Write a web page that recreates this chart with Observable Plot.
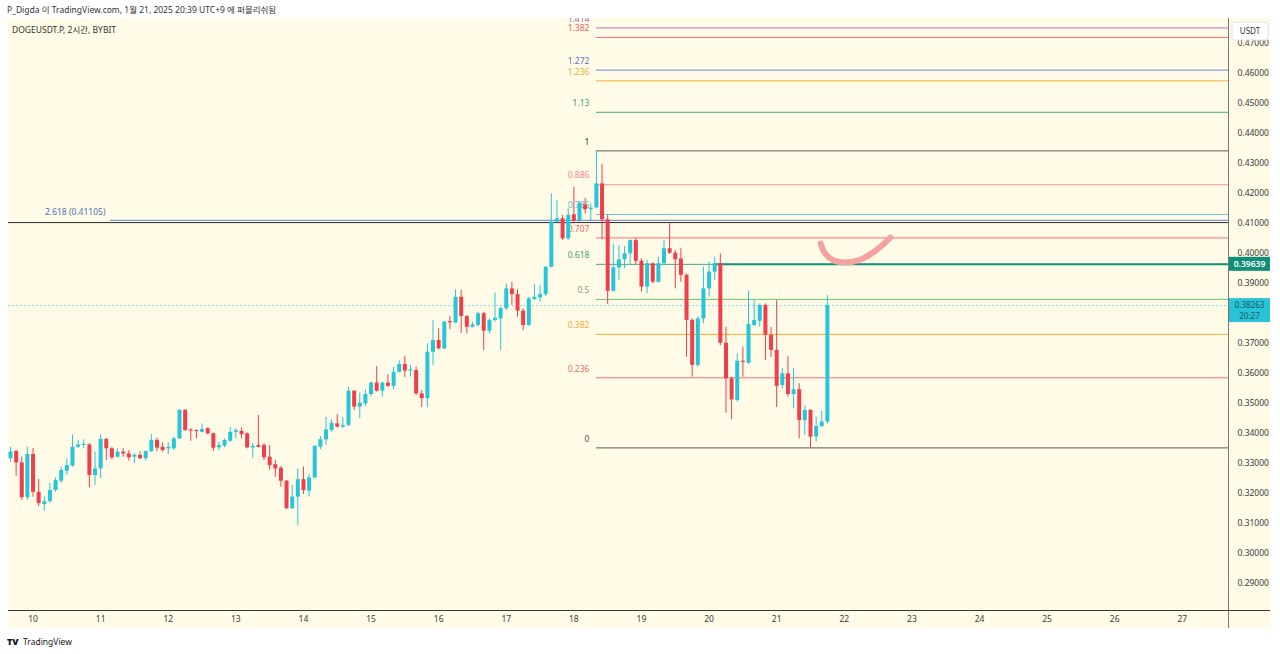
<!DOCTYPE html>
<html><head><meta charset="utf-8">
<script src="https://cdn.jsdelivr.net/npm/d3@7"></script>
<script src="https://cdn.jsdelivr.net/npm/@observablehq/plot@0.6"></script>
<style>
body{margin:0;background:#fff;width:1280px;height:654px;overflow:hidden;position:relative;font-family:"Noto Sans","Noto Sans CJK KR",sans-serif;}
#panel{position:absolute;left:8px;top:18px;width:1262px;height:610px;background:#fffbe6;}
#chart{position:absolute;left:0;top:0;}
</style></head><body>
<div id="panel"></div>
<div id="chart"></div>
<script>
// DOGEUSDT.P 2h candles, first candle 2025-01-09 16:00
const startTime = "2025-01-09T16:00:00Z";
const open = [
0.3316,0.3340,0.3302,0.3186,0.3330,0.3204,0.3163,0.3173,0.3210,0.3241,
0.3274,0.3291,0.3354,0.3360,0.3362,0.3260,0.3282,0.3380,0.3349,0.3321,
0.3338,0.3332,0.3321,0.3327,0.3316,0.3340,0.3377,0.3354,0.3349,0.3349,
0.3382,0.3477,0.3412,0.3410,0.3404,0.3416,0.3399,0.3352,0.3358,0.3374,
0.3404,0.3407,0.3399,0.3352,0.3360,0.3360,0.3321,0.3296,0.3284,0.3241,
0.3149,0.3188,0.3246,0.3208,0.3252,0.3354,0.3379,0.3410,0.3432,0.3421,
0.3427,0.3541,0.3488,0.3499,0.3530,0.3568,0.3541,0.3568,0.3557,0.3604,
0.3630,0.3608,0.3610,0.3532,0.3516,0.3671,0.3710,0.3682,0.3773,0.3768,
0.3854,0.3790,0.3754,0.3760,0.3799,0.3741,0.3777,0.3782,0.3816,0.3882,
0.3863,0.3808,0.3760,0.3847,0.3852,0.3863,0.3954,0.4104,0.4116,0.4049,
0.4129,0.4110,0.4162,0.4146,0.4152,0.4232,0.4112,0.3874,0.3952,0.3979,
0.3999,0.4043,0.3974,0.3888,0.3966,0.3904,0.3966,0.4016,0.4001,0.3982,
0.3927,0.3777,0.3627,0.3782,0.3882,0.3938,0.3966,0.3701,0.3582,0.3510,
0.3641,0.3634,0.3760,0.3774,0.3827,0.3727,0.3677,0.3560,0.3599,0.3530,
0.3546,0.3443,0.3477,0.3388,0.3423,0.3438];
const high = [
0.3354,0.3343,0.3321,0.3354,0.3350,0.3247,0.3188,0.3233,0.3252,0.3288,
0.3316,0.3396,0.3377,0.3379,0.3366,0.3338,0.3396,0.3384,0.3354,0.3349,
0.3349,0.3343,0.3333,0.3338,0.3341,0.3396,0.3384,0.3369,0.3369,0.3388,
0.3480,0.3480,0.3416,0.3412,0.3432,0.3419,0.3402,0.3371,0.3382,0.3421,
0.3416,0.3418,0.3402,0.3366,0.3460,0.3366,0.3360,0.3310,0.3290,0.3243,
0.3227,0.3282,0.3288,0.3263,0.3360,0.3390,0.3454,0.3446,0.3463,0.3452,
0.3554,0.3543,0.3534,0.3546,0.3571,0.3623,0.3571,0.3596,0.3621,0.3643,
0.3657,0.3627,0.3621,0.3543,0.3699,0.3777,0.3749,0.3773,0.3790,0.3879,
0.3877,0.3793,0.3771,0.3804,0.3804,0.3782,0.3868,0.3821,0.3899,0.3904,
0.3879,0.3816,0.3854,0.3896,0.3893,0.3957,0.4199,0.4177,0.4127,0.4149,
0.4221,0.4171,0.4184,0.4166,0.4342,0.4297,0.4127,0.4032,0.4027,0.4023,
0.4046,0.4049,0.3982,0.3977,0.3968,0.3988,0.4043,0.4099,0.4010,0.4016,
0.3932,0.3782,0.3788,0.3954,0.3971,0.3988,0.3999,0.3754,0.3588,0.3666,
0.3688,0.3874,0.3843,0.3832,0.3832,0.3754,0.3843,0.3616,0.3657,0.3616,
0.3566,0.3493,0.3479,0.3454,0.3474,0.3860];
const low = [
0.3304,0.3257,0.3177,0.3177,0.3188,0.3157,0.3141,0.3167,0.3204,0.3234,
0.3260,0.3288,0.3350,0.3349,0.3219,0.3227,0.3250,0.3310,0.3312,0.3319,
0.3321,0.3308,0.3300,0.3312,0.3308,0.3336,0.3340,0.3338,0.3329,0.3343,
0.3380,0.3407,0.3374,0.3382,0.3402,0.3396,0.3340,0.3343,0.3352,0.3371,
0.3382,0.3382,0.3349,0.3316,0.3352,0.3310,0.3277,0.3254,0.3221,0.3147,
0.3146,0.3093,0.3197,0.3188,0.3249,0.3346,0.3360,0.3404,0.3419,0.3416,
0.3423,0.3477,0.3449,0.3490,0.3521,0.3538,0.3521,0.3554,0.3546,0.3601,
0.3586,0.3588,0.3527,0.3486,0.3486,0.3626,0.3679,0.3679,0.3746,0.3766,
0.3734,0.3732,0.3752,0.3754,0.3677,0.3732,0.3771,0.3677,0.3810,0.3827,
0.3788,0.3743,0.3757,0.3843,0.3838,0.3857,0.3952,0.4099,0.4043,0.4043,
0.4099,0.4104,0.4132,0.4110,0.4149,0.4046,0.3830,0.3871,0.3910,0.3949,
0.3960,0.3963,0.3871,0.3866,0.3899,0.3901,0.3960,0.3997,0.3882,0.3904,
0.3654,0.3588,0.3621,0.3766,0.3854,0.3910,0.3693,0.3468,0.3446,0.3504,
0.3588,0.3630,0.3757,0.3754,0.3643,0.3654,0.3486,0.3549,0.3521,0.3482,
0.3382,0.3393,0.3352,0.3371,0.3419,0.3432];
const close = [
0.3338,0.3302,0.3186,0.3330,0.3204,0.3166,0.3173,0.3210,0.3243,0.3277,
0.3293,0.3354,0.3362,0.3363,0.3260,0.3282,0.3380,0.3349,0.3319,0.3338,
0.3332,0.3319,0.3327,0.3316,0.3340,0.3377,0.3351,0.3343,0.3354,0.3382,
0.3477,0.3410,0.3408,0.3408,0.3413,0.3399,0.3351,0.3360,0.3377,0.3404,
0.3410,0.3396,0.3352,0.3357,0.3354,0.3319,0.3293,0.3282,0.3241,0.3149,
0.3188,0.3246,0.3210,0.3252,0.3357,0.3379,0.3412,0.3434,0.3421,0.3427,
0.3541,0.3488,0.3501,0.3530,0.3568,0.3541,0.3568,0.3557,0.3604,0.3630,
0.3608,0.3612,0.3532,0.3516,0.3671,0.3710,0.3682,0.3771,0.3769,0.3854,
0.3790,0.3754,0.3762,0.3799,0.3741,0.3777,0.3784,0.3816,0.3882,0.3863,
0.3808,0.3760,0.3849,0.3854,0.3863,0.3954,0.4105,0.4116,0.4049,0.4127,
0.4108,0.4166,0.4146,0.4151,0.4232,0.4112,0.3874,0.3952,0.3979,0.3999,
0.4043,0.3974,0.3888,0.3966,0.3904,0.3966,0.4016,0.4001,0.3979,0.3927,
0.3777,0.3627,0.3782,0.3882,0.3938,0.3966,0.3701,0.3582,0.3512,0.3641,
0.3637,0.3763,0.3777,0.3827,0.3727,0.3677,0.3557,0.3599,0.3530,0.3546,
0.3443,0.3477,0.3388,0.3423,0.3438,0.38263];

// Fibonacci retracement (anchor: candle #105 high -> candle #143 low)
const fibLow = 0.3352, fibHigh = 0.4342, fibAnchorIndex = 104;
const fibLevels = [0,0.236,0.382,0.5,0.618,0.707,0.786,0.886,1,1.13,1.236,1.272,1.382,1.414];
const fibLabels = ["0","0.236","0.382","0.5","0.618","0.707","0.786","0.886","1","1.13","1.236","1.272","1.382","1.414"];
const fibLineColors = ["#4a4a4a","#f0606c","#f5a623","#5cb85c","#2f9e7c","#f0606c","#55c3da","#f4868a","#4a4a4a","#2f9e7c","#f5a623","#4f7fd6","#f0606c","#b565c4"];
const fibLabelColors = ["#555555","#ea6b73","#f0a838","#8a9a8a","#3e9c7c","#ea5f68","#55bcd2","#f08a8e","#333333","#3a9e84","#f0a838","#5677c0","#ea5f68","#a060b8"];

// other drawings
const hLinePrice = 0.4103;
const extLabel = "2.618 (0.41105)", extPrice = 0.41105, extStart = "2025-01-11T03:30:00Z";
const keyLevel = 0.39639, keyLevelStartIndex = 125;
const lastPrice = 0.38263, countdown = "20:27";
const strokeTimes = ["2025-01-21T15:36:00Z","2025-01-21T17:12:00Z","2025-01-21T20:00:00Z","2025-01-22T00:24:00Z","2025-01-22T05:48:00Z","2025-01-22T11:12:00Z","2025-01-22T16:24:00Z"];
const strokePrices = [0.4033,0.4000,0.3978,0.3970,0.3980,0.4010,0.4053];

// price-axis ticks (0.38 is hidden under the last-price label in the reference)
const yTicks = [0.29,0.30,0.31,0.32,0.33,0.34,0.35,0.36,0.37,0.39,0.40,0.41,0.42,0.43,0.44,0.45,0.46,0.47];
const dayTicks = [10,11,12,13,14,15,16,17,18,19,20,21,22,23,24,25,26,27];

const UP = "#26c6da", DOWN = "#ef3e4c";
const H2 = 2*3600e3;
const t0 = new Date(startTime).getTime();
const times = open.map((_, i) => new Date(t0 + i*H2));
const candles = open.map((o, i) => {
  const c = close[i], up = c >= o;
  const minH = 0.00035;
  const c2 = Math.abs(c - o) < minH ? (up ? o + minH : o - minH) : c;
  return {t: times[i], o, c: c2, h: high[i], l: low[i], col: up ? UP : DOWN};
});
const xStart = new Date(t0 - 0.355*H2), xEnd = new Date(t0 + 216.2*H2);
const fib = fibLevels.map((lv, k) => ({
  price: fibLow + lv*(fibHigh - fibLow), label: fibLabels[k],
  line: fibLineColors[k], lab: fibLabelColors[k], x1: times[fibAnchorIndex], x2: xEnd
}));
const ext = [{price: extPrice, x1: new Date(extStart), x2: xEnd, label: extLabel}];
const key = [{price: keyLevel, x1: times[keyLevelStartIndex], x2: xEnd}];
const stroke = strokeTimes.map((t, i) => ({t: new Date(t), p: strokePrices[i]}));
const dayDates = dayTicks.map(d => new Date(Date.UTC(2025, 0, d)));

const FONT = '"Noto Sans","Noto Sans CJK KR",sans-serif';
const plot = Plot.plot({
  width: 1280, height: 654,
  marginLeft: 8, marginRight: 52, marginTop: 18, marginBottom: 44,
  style: {background: "transparent", fontFamily: FONT, fontSize: "8.5px", color: "#3a3a3a", overflow: "visible"},
  x: {type: "utc", domain: [xStart, xEnd]},
  y: {domain: [0.281, 0.47833]},
  marks: [
    Plot.ruleY(fib, {y: "price", x1: "x1", x2: "x2", stroke: "line", strokeWidth: 1, strokeOpacity: 0.9}),
    Plot.text(fib, {x: "x1", y: "price", text: "label", fill: "lab", textAnchor: "end", dx: -7, dy: -9, fontSize: 8.5, clip: true}),
    Plot.ruleY([hLinePrice], {stroke: "#2a2a2a", strokeWidth: 1}),
    Plot.ruleY(ext, {y: "price", x1: "x1", x2: "x2", stroke: "#5b80d8", strokeWidth: 1}),
    Plot.text(ext, {x: "x1", y: "price", text: "label", fill: "#4f70c2", textAnchor: "end", dx: -5, dy: -8, fontSize: 8.5}),
    Plot.ruleY([lastPrice], {stroke: "#7fdbe8", strokeDasharray: "2,2", strokeWidth: 1}),
    Plot.ruleY(key, {y: "price", x1: "x1", x2: "x2", stroke: "#0e9479", strokeWidth: 2}),
    Plot.ruleX(candles, {x: "t", y1: "l", y2: "h", stroke: "col", strokeWidth: 1}),
    Plot.ruleX(candles, {x: "t", y1: "o", y2: "c", stroke: "col", strokeWidth: 4}),
    Plot.line(stroke, {x: "t", y: "p", stroke: "#f4a2a2", strokeWidth: 6, curve: "catmull-rom", strokeLinecap: "round", strokeLinejoin: "round"}),
    Plot.axisY({anchor: "right", ticks: yTicks, tickFormat: d => d.toFixed(5), tickSize: 0, tickPadding: 9, label: null, fontSize: 8.5}),
    Plot.axisX({ticks: dayDates, tickFormat: d => String(d.getUTCDate()), tickSize: 0, tickPadding: 5, label: null, fontSize: 8.5})
  ]
});
document.getElementById("chart").appendChild(plot);

const svg = d3.select(plot);
const ys = plot.scale("y");
const addText = (x, y, s, opts = {}) => svg.append("text").attr("x", x).attr("y", y)
  .attr("text-anchor", opts.anchor || "start").attr("fill", opts.fill || "#333")
  .attr("font-size", opts.size || 8.5).attr("font-weight", opts.weight || 400).text(s);
// panel borders
svg.append("line").attr("x1", 1228.5).attr("x2", 1228.5).attr("y1", 18).attr("y2", 628).attr("stroke", "#777").attr("stroke-width", 1);
svg.append("line").attr("x1", 8).attr("x2", 1270).attr("y1", 610.5).attr("y2", 610.5).attr("stroke", "#3a3a3a").attr("stroke-width", 1);
// key level price box
const yk = ys.apply(keyLevel);
svg.append("rect").attr("x", 1229).attr("y", yk - 7).attr("width", 41).attr("height", 14).attr("fill", "#0f8f76");
addText(1249.5, yk + 3, keyLevel.toFixed(5), {anchor: "middle", fill: "#fff", weight: 600});
// last price box
const yl = ys.apply(lastPrice);
svg.append("rect").attr("x", 1229).attr("y", yl - 7).attr("width", 41).attr("height", 24).attr("fill", "#29c3d7");
addText(1249.5, yl + 2.5, lastPrice.toFixed(5), {anchor: "middle", fill: "#145a66", size: 8});
addText(1249.5, yl + 14, countdown, {anchor: "middle", fill: "#145a66", size: 8});
// currency box
svg.append("rect").attr("x", 1232).attr("y", 22).attr("width", 36).attr("height", 18).attr("fill", "#fff").attr("stroke", "#e3e3e3").attr("rx", 2);
addText(1250, 34, "USDT", {anchor: "middle", size: 8});
// header / footer text
addText(7, 12.5, "P_Digda 이 TradingView.com, 1월 21, 2025 20:39 UTC+9 에 퍼블리쉬됨");
addText(12, 32.5, "DOGEUSDT.P, 2시간, BYBIT");
addText(7, 645, "TV", {fill: "#131722", size: 9, weight: 900});
addText(23, 645, "TradingView", {fill: "#131722"});
</script>
</body></html>
